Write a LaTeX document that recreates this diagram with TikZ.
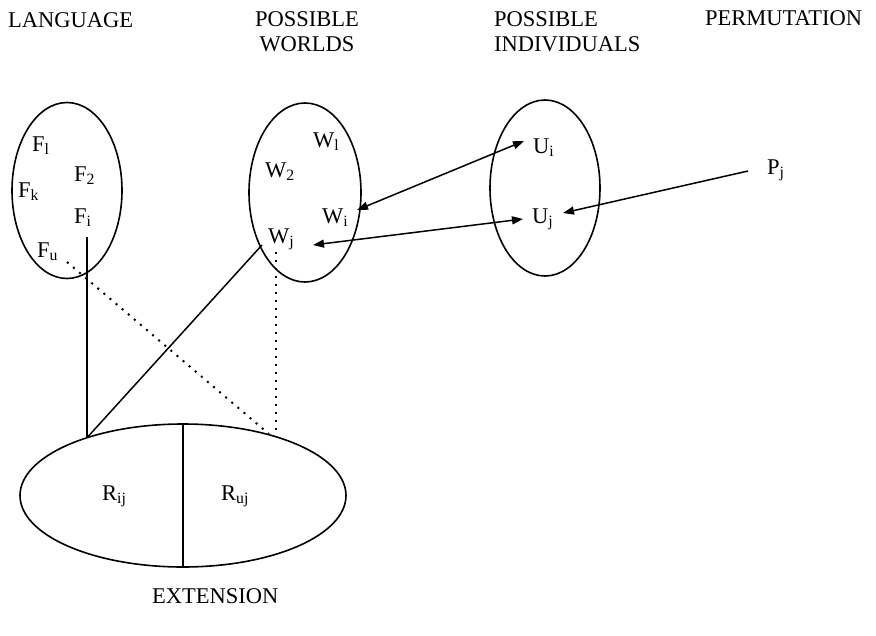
\documentclass[tikz,border=0pt]{standalone}
\usepackage{fontspec}
\setmainfont{Liberation Serif}
\usetikzlibrary{shapes.geometric,arrows.meta}
\begin{document}
\begin{tikzpicture}[x=1pt,y=1pt,
  every node/.style={font=\fontsize{22.5}{25}\selectfont, inner sep=0pt},
  set/.style={draw, ellipse, line width=1.6pt, inner sep=0pt},
  lbl/.style={anchor=base west},
  head/.style={anchor=north west, align=left},
  solidlink/.style={line width=1.5pt},
  dotlink/.style={line width=2pt, dash pattern=on 2pt off 6pt},
  arr/.style={line width=1.5pt, -{Triangle[length=11pt,width=8pt]}},
  darr/.style={line width=1.5pt, {Triangle[length=11pt,width=8pt]}-{Triangle[length=11pt,width=8pt]}}]
\useasboundingbox (0,0) rectangle (876,-635);

% headings
\node[lbl] (hlang) at (8,-27) {LANGUAGE};
\node[anchor=north, align=center] (hworlds) at (307,-11) {POSSIBLE\\WORLDS};
\node[head] (hind) at (494,-11) {POSSIBLE\\INDIVIDUALS};
\node[lbl] (hperm) at (705,-25) {PERMUTATION};
\node[lbl] (hext) at (152,-603) {EXTENSION};

% sets
\node[set, minimum width=110pt, minimum height=176pt] (lang) at (67,-190.5) {};
\node[set, minimum width=112pt, minimum height=179pt] (worlds) at (305,-192.5) {};
\node[set, minimum width=110pt, minimum height=176pt] (indiv) at (545,-188) {};
\node[set, minimum width=326pt, minimum height=143pt] (ext) at (183,-495.5) {};
\draw[solidlink] (ext.north) -- (ext.south);

% language elements
\node[lbl] (F1) at (32,-151) {F\textsubscript{l}};
\node[lbl] (F2) at (74,-181) {F\textsubscript{2}};
\node[lbl] (Fk) at (18,-197) {F\textsubscript{k}};
\node[lbl] (Fi) at (74,-223) {F\textsubscript{i}};
\node[lbl] (Fu) at (37,-257) {F\textsubscript{u}};

% worlds
\node[lbl] (W1) at (313,-147) {W\textsubscript{l}};
\node[lbl] (W2) at (265,-177) {W\textsubscript{2}};
\node[lbl] (Wi) at (322,-223) {W\textsubscript{i}};
\node[lbl] (Wj) at (268,-243) {W\textsubscript{j}};

% individuals
\node[lbl] (Ui) at (533,-153) {U\textsubscript{i}};
\node[lbl] (Uj) at (532,-223) {U\textsubscript{j}};

% permutation
\node[lbl] (Pj) at (767,-174) {P\textsubscript{j}};

% extension parts
\node[lbl] (Rij) at (102,-500) {R\textsubscript{ij}};
\node[lbl] (Ruj) at (221,-500) {R\textsubscript{uj}};

% connector end points
\coordinate (fiB) at (87,-237);
\coordinate (fuB) at (67,-262);
\coordinate (wjA) at (262,-245);
\coordinate (wjB) at (276,-252);
\coordinate (eA) at (87,-437.7);
\coordinate (eB) at (269,-434);
\coordinate (eC) at (276,-434);
\coordinate (wiT) at (357,-210);
\coordinate (uiT) at (524,-141);
\coordinate (wjT) at (313,-245);
\coordinate (ujT) at (523,-219);
\coordinate (pjS) at (748,-171);
\coordinate (ujP) at (563,-213);

% connectors
\draw[solidlink] (fiB) -- (eA);
\draw[solidlink] (wjA) -- (eA);
\draw[dotlink] (fuB) -- (eB);
\draw[dotlink] (wjB) -- (eC);
\draw[darr] (wiT) -- (uiT);
\draw[darr] (wjT) -- (ujT);
\draw[arr] (pjS) -- (ujP);
\end{tikzpicture}
\end{document}
